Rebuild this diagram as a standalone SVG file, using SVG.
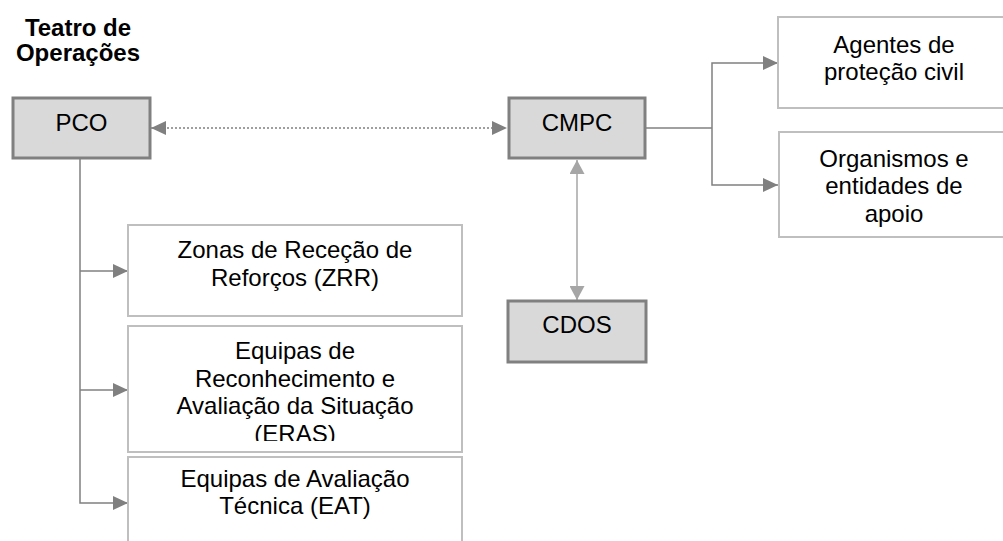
<svg xmlns="http://www.w3.org/2000/svg" width="1003" height="541" viewBox="0 0 1003 541">
  <style>
    text { font-family: "Liberation Sans", Arial, sans-serif; font-size: 24px; fill: #000; text-anchor: middle; }
    .title { font-weight: bold; }
    .grey { fill: #d9d9d9; stroke: #808080; stroke-width: 3; }
    .white { fill: #ffffff; stroke: #bfbfbf; stroke-width: 2; }
    .conn { fill: none; stroke: #808080; stroke-width: 1.5; }
    .dotted { stroke-dasharray: 2 2; }
    .light { stroke: #a6a6a6; }
  </style>
  <defs>
    <marker id="arr" markerUnits="userSpaceOnUse" markerWidth="16" markerHeight="14" viewBox="0 0 16 14" refX="15" refY="7" orient="auto-start-reverse">
      <path d="M0,0 L15,7 L0,14 z" fill="#808080"/>
    </marker>
    <marker id="arrL" markerUnits="userSpaceOnUse" markerWidth="16" markerHeight="15" viewBox="0 0 16 15" refX="14" refY="7.5" orient="auto-start-reverse">
      <path d="M0,0 L14,7.5 L0,15 z" fill="#a6a6a6"/>
    </marker>
    <clipPath id="erasClip">
      <rect x="128" y="326" width="334" height="115"/>
    </clipPath>
  </defs>

  <g id="title">
    <text class="title" x="78" y="36">Teatro de</text>
    <text class="title" x="78" y="61">Operações</text>
  </g>

  <g id="connectors">
    <line class="conn dotted" x1="151" y1="128" x2="507" y2="128" marker-start="url(#arr)" marker-end="url(#arr)"/>
    <path class="conn" d="M80,159 V503 H128" marker-end="url(#arr)"/>
    <path class="conn" d="M80,271 H128" marker-end="url(#arr)"/>
    <path class="conn" d="M80,390 H128" marker-end="url(#arr)"/>
    <path class="conn" d="M646,128 H712"/>
    <path class="conn" d="M712,128 V63 H778" marker-end="url(#arr)"/>
    <path class="conn" d="M712,128 V185 H778" marker-end="url(#arr)"/>
    <line class="conn light" x1="577" y1="160" x2="577" y2="300" marker-start="url(#arrL)" marker-end="url(#arrL)"/>
  </g>

  <g id="pco">
    <rect class="grey" x="13" y="98" width="137" height="60"/>
    <text x="81.5" y="131">PCO</text>
  </g>

  <g id="cmpc">
    <rect class="grey" x="509" y="98" width="136" height="60"/>
    <text x="577" y="131">CMPC</text>
  </g>

  <g id="cdos">
    <rect class="grey" x="508" y="301" width="138" height="61"/>
    <text x="577" y="333">CDOS</text>
  </g>

  <g id="zrr">
    <rect class="white" x="128" y="225" width="334" height="91"/>
    <text x="295" y="258">Zonas de Receção de</text>
    <text x="295" y="285.5">Reforços (ZRR)</text>
  </g>

  <g id="eras">
    <rect class="white" x="128" y="326" width="334" height="126"/>
    <g clip-path="url(#erasClip)">
      <text x="295" y="359">Equipas de</text>
      <text x="295" y="386.5">Reconhecimento e</text>
      <text x="295" y="414">Avaliação da Situação</text>
      <text x="295" y="441.5">(ERAS)</text>
    </g>
  </g>

  <g id="eat">
    <rect class="white" x="128" y="457" width="334" height="100"/>
    <text x="295" y="487">Equipas de Avaliação</text>
    <text x="295" y="514">Técnica (EAT)</text>
  </g>

  <g id="agentes">
    <rect class="white" x="778" y="17" width="231" height="91"/>
    <text x="894" y="52.5">Agentes de</text>
    <text x="894" y="80">proteção civil</text>
  </g>

  <g id="organismos">
    <rect class="white" x="779" y="132" width="230" height="105"/>
    <text x="894" y="166.5">Organismos e</text>
    <text x="894" y="194">entidades de</text>
    <text x="894" y="221.5">apoio</text>
  </g>
</svg>
